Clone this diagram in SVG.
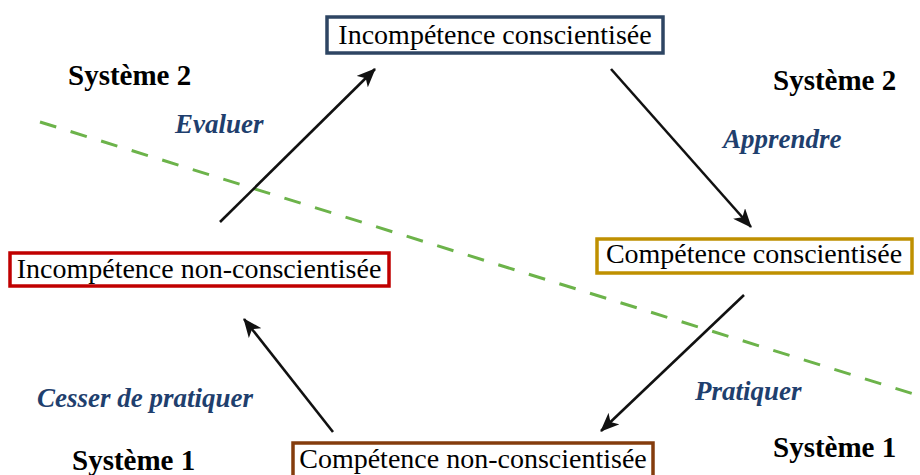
<svg xmlns="http://www.w3.org/2000/svg" width="920" height="475" viewBox="0 0 920 475">
<defs>
<style>
.node{fill:#fff;stroke-width:3.5}
.nt{font-family:"Liberation Serif","Times New Roman",serif;font-size:28px;fill:#000;text-anchor:middle}
.sys{font-family:"Liberation Serif","Times New Roman",serif;font-size:29px;font-weight:bold;fill:#000}
.act{font-family:"Liberation Serif","Times New Roman",serif;font-size:27px;font-weight:bold;font-style:italic;fill:#1f3f6e}
.arr{stroke:#111;stroke-width:2.6;fill:none;marker-end:url(#ah)}
</style>
<marker id="ah" viewBox="0 0 20 16" refX="18" refY="8" markerWidth="20" markerHeight="16" markerUnits="userSpaceOnUse" orient="auto">
<path d="M0,0 L19,8 L0,16 L5,8 Z" fill="#111"/>
</marker>
</defs>
<rect width="920" height="475" fill="#fff"/>
<line x1="40" y1="122" x2="920" y2="396" stroke="#6cb34a" stroke-width="3" stroke-dasharray="17,15"/>
<g id="connectors">
<line class="arr" x1="220" y1="222" x2="375" y2="69"/>
<line class="arr" x1="611" y1="69" x2="751" y2="227"/>
<line class="arr" x1="744" y1="295" x2="601" y2="431"/>
<line class="arr" x1="333" y1="432" x2="244" y2="319"/>
</g>
<g id="n1">
<rect class="node" x="327" y="17" width="336" height="36" stroke="#2e4563"/>
<text class="nt" x="495" y="44">Incompétence conscientisée</text>
</g>
<g id="n2">
<rect class="node" x="597" y="239" width="315" height="34" stroke="#bf9000"/>
<text class="nt" x="754" y="263">Compétence conscientisée</text>
</g>
<g id="n3">
<rect class="node" x="10" y="253" width="379" height="33" stroke="#c00000"/>
<text class="nt" x="199" y="278">Incompétence non-conscientisée</text>
</g>
<g id="n4">
<rect class="node" x="293" y="443" width="360" height="36" stroke="#843c0c"/>
<text class="nt" x="473" y="468">Compétence non-conscientisée</text>
</g>
<text class="sys" x="68" y="85">Système 2</text>
<text class="sys" x="773" y="90">Système 2</text>
<text class="sys" x="773" y="457">Système 1</text>
<text class="sys" x="72" y="470">Système 1</text>
<text class="act" x="175" y="133">Evaluer</text>
<text class="act" x="723" y="148">Apprendre</text>
<text class="act" x="695" y="400">Pratiquer</text>
<text class="act" x="37" y="407">Cesser de pratiquer</text>
</svg>
